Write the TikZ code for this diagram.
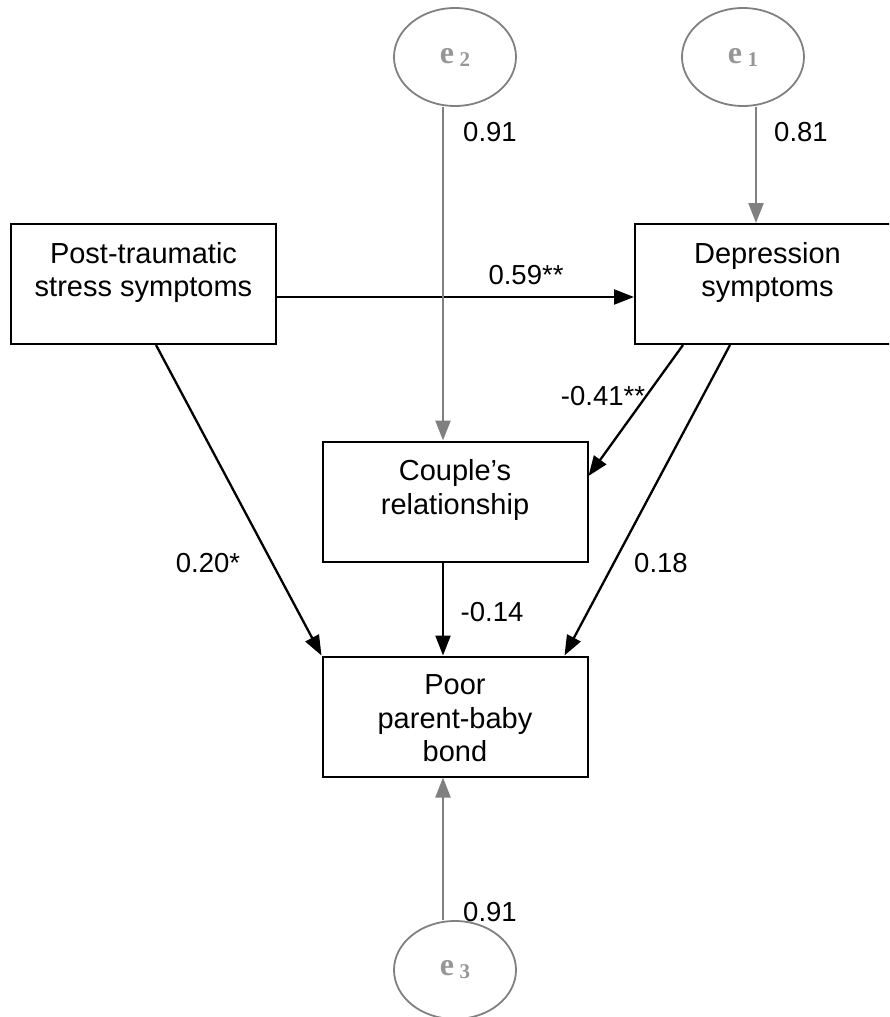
\documentclass[tikz,border=0pt]{standalone}
\usepackage{fontspec}
\setmainfont{Liberation Sans}
\newfontfamily\tnr{Liberation Serif}
\usetikzlibrary{arrows.meta,shapes.geometric}
\definecolor{errgray}{RGB}{128,128,128}
\definecolor{etxt}{RGB}{150,150,150}
\newcommand{\evar}[1]{{\tnr\bfseries\fontsize{32}{32}\selectfont e\,\raisebox{-3pt}{\fontsize{21}{21}\selectfont #1}}}
\begin{document}
\begin{tikzpicture}[x=1pt,y=-1pt,
  box/.style={draw, line width=2pt, minimum width=265pt, minimum height=120pt, inner sep=0pt},
  boxtxt/.style={align=center, font=\fontsize{29}{33.5}\selectfont, inner sep=0pt, anchor=north},
  errnode/.style={ellipse, draw=errgray, line width=1.8pt, minimum width=122pt, minimum height=98pt, inner sep=0pt, text=etxt},
  pathln/.style={line width=2.3pt, -{Triangle[length=20pt,width=15pt]}},
  errln/.style={pathln, draw=errgray, fill=errgray},
  lab/.style={font=\fontsize{27.5}{33}\selectfont, inner sep=0pt}]
\useasboundingbox (0,0) rectangle (889,1017);
\clip (0,0) rectangle (889,1017);
% boxes
\node[box] (ptsd) at (143.5,284) {};
\node[box] (dep) at (767.5,284) {};
\node[box] (cr) at (455,501.5) {};
\node[box] (poor) at (455,716.5) {};
\node[boxtxt] (ptsdt) at ([yshift=-19pt]ptsd.north) {Post-traumatic\\stress symptoms};
\node[boxtxt] (dept) at ([yshift=-19pt]dep.north) {Depression\\symptoms};
\node[boxtxt] (crt) at ([yshift=-19pt]cr.north) {Couple’s\\relationship};
\node[boxtxt] (poort) at ([yshift=-19pt]poor.north) {Poor\\parent-baby\\bond};
% error terms
\node[errnode] (e2) at (455,57) {\evar{2}};
\node[errnode] (e1) at (743,57) {\evar{1}};
\node[errnode] (e3) at (455,970) {\evar{3}};
% paths
\draw[pathln] ([yshift=-13pt]ptsd.east) -- ([yshift=-13pt]dep.west);
\draw[pathln] ([xshift=12.5pt]ptsd.south) -- (poor.north west);
\draw[pathln] ([xshift=-37.5pt]dep.south) -- ([xshift=-24pt]poor.north east);
\draw[pathln] ([xshift=-84.5pt]dep.south) -- ([yshift=25.5pt]cr.east);
\draw[pathln] ([xshift=-12pt]cr.south) -- ([xshift=-12pt]poor.north);
\draw[errln] ([xshift=-12pt]e2.south) -- ([xshift=-12pt]cr.north);
\draw[errln] ([xshift=13pt]e1.south) -- ([xshift=-11.5pt]dep.north);
\draw[errln] ([xshift=-12pt]e3.north) -- ([xshift=-12pt]poor.south);
% labels
\node[lab] (l1) at (490,132) {0.91};
\node[lab] (l2) at (801,132) {0.81};
\node[lab] (l3) at (526,275) {0.59**};
\node[lab] (l4) at (603,396) {-0.41**};
\node[lab] (l5) at (208,563) {0.20*};
\node[lab] (l6) at (661,563) {0.18};
\node[lab] (l7) at (492,612) {-0.14};
\node[lab] (l8) at (490,912) {0.91};
\end{tikzpicture}
\end{document}
